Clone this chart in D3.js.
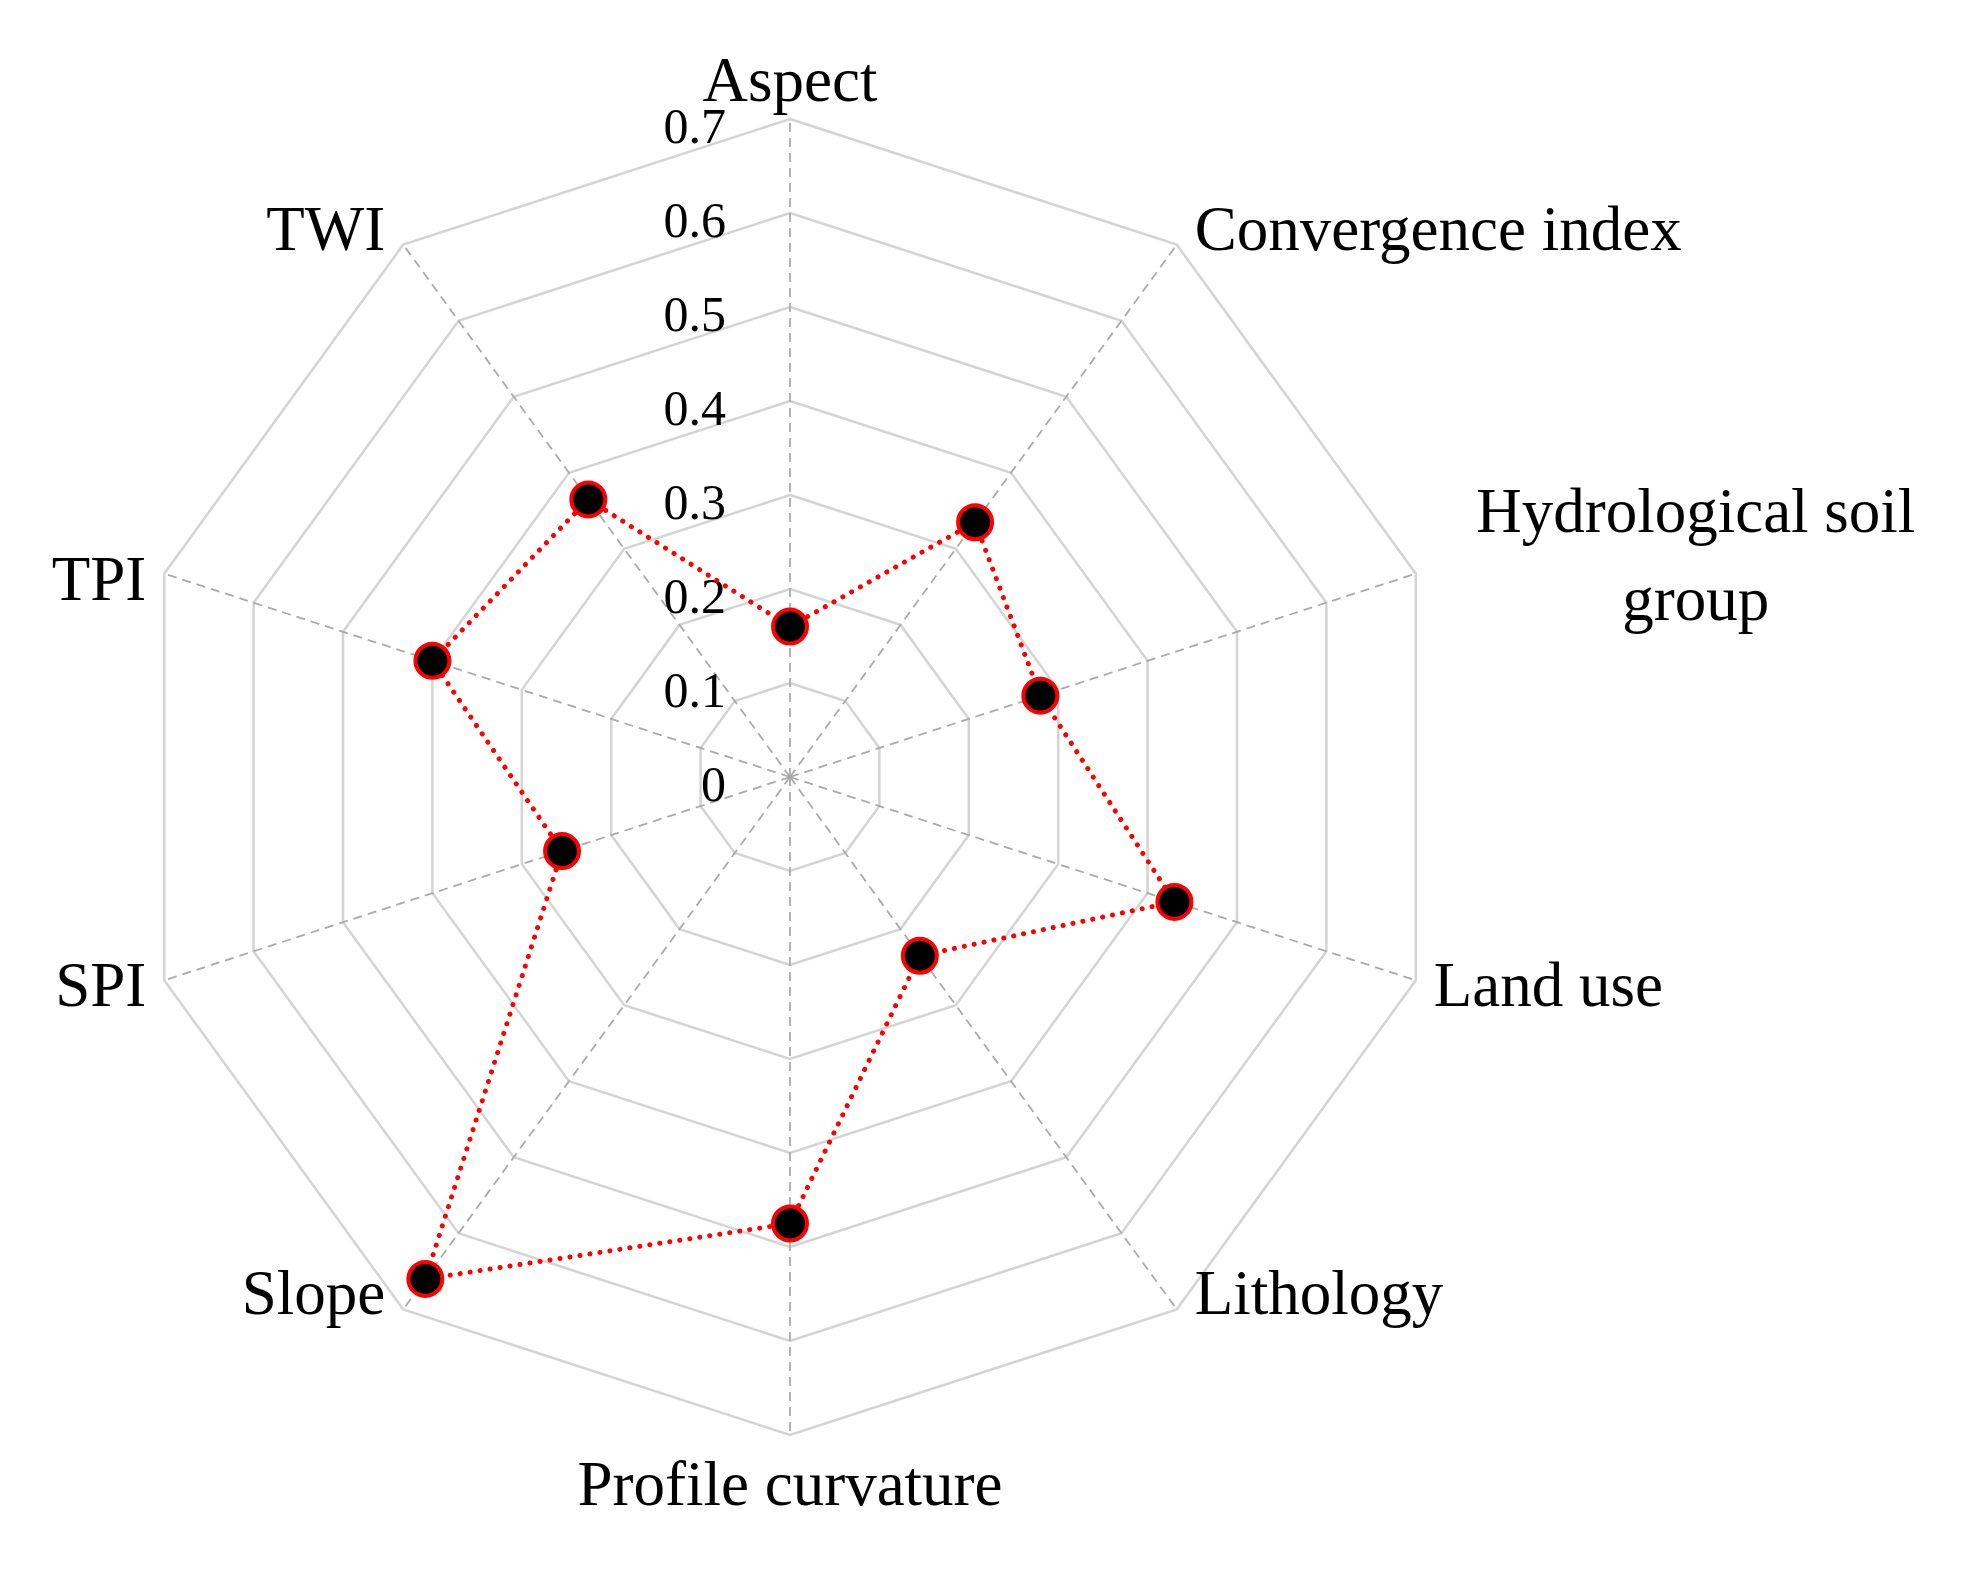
<!DOCTYPE html>
<html lang="en">
<head>
  <meta charset="UTF-8" />
  <title>Radar</title>
  <style>
  body { margin: 0; background: #fff; }
  svg { display: block; }
  text { font-family: "Liberation Serif", "Times New Roman", serif; fill: #000; }
  </style>
  <script src="https://d3js.org/d3.v7.min.js"></script>
</head>
<body>
  <div id="chart"></div>
  <script>
    // Factors in clockwise order from the top
    const factors = ["Aspect", "Convergence index", "Hydrological soil group", "Land use", "Lithology",
      "Profile curvature", "Slope", "SPI", "TPI", "TWI"];
    const values = [0.16, 0.335, 0.28, 0.43, 0.235, 0.475, 0.66, 0.255, 0.40, 0.365];
    const ticks = [0, 0.1, 0.2, 0.3, 0.4, 0.5, 0.6, 0.7];

    const width = 1975, height = 1571;
    const cx = 790, cy = 777, R = 658;

    const svg = d3.select("#chart").append("svg")
      .attr("width", width)
      .attr("height", height);

    const g = svg.append("g").attr("transform", `translate(${cx},${cy})`);

    const r = d3.scaleLinear().domain([0, 0.7]).range([0, R]);
    const angle = d3.scaleLinear().domain([0, factors.length]).range([0, 2 * Math.PI]);
    const pt = (i, v) => [r(v) * Math.sin(angle(i)), -r(v) * Math.cos(angle(i))];

    // Rings
    const line = d3.line();
    g.selectAll(".ring")
      .data(ticks.slice(1))
      .enter().append("path")
      .attr("d", t => line(factors.map((f, i) => pt(i, t))) + "Z")
      .attr("fill", "none")
      .attr("stroke", "#d4d4d4")
      .attr("stroke-width", 2.5);

    // Spokes
    g.selectAll(".spoke")
      .data(factors)
      .enter().append("line")
      .attr("x1", 0).attr("y1", 0)
      .attr("x2", (f, i) => pt(i, 0.7)[0])
      .attr("y2", (f, i) => pt(i, 0.7)[1])
      .attr("stroke", "#aaa")
      .attr("stroke-width", 1.8)
      .attr("stroke-dasharray", "9,6");

    // Tick labels
    g.selectAll(".tick")
      .data(ticks)
      .enter().append("text")
      .attr("x", -64)
      .attr("y", t => -r(t) + 24)
      .attr("text-anchor", "end")
      .attr("font-size", 50)
      .text(t => t === 0 ? "0" : t.toFixed(1));

    // Series line
    g.append("path")
      .attr("d", line(values.map((v, i) => pt(i, v))) + "Z")
      .attr("fill", "none")
      .attr("stroke", "#ff0000")
      .attr("stroke-width", 5)
      .attr("stroke-linecap", "round")
      .attr("stroke-dasharray", "0.1,10");

    // Markers
    g.selectAll(".dot")
      .data(values)
      .enter().append("circle")
      .attr("cx", (v, i) => pt(i, v)[0])
      .attr("cy", (v, i) => pt(i, v)[1])
      .attr("r", 17)
      .attr("fill", "#000")
      .attr("stroke", "#ff0000")
      .attr("stroke-width", 4);

    // Factor labels
    const fs = 63;
    factors.forEach((f, i) => {
      const [x, y] = pt(i, 0.7);
      const a = angle(i);
      const s = Math.sin(a);
      const anchor = Math.abs(s) < 0.01 ? "middle" : (s > 0 ? "start" : "end");
      const lx = x + (anchor === "start" ? 18 : anchor === "end" ? -18 : 0);
      let ly = y + (Math.cos(a) > 0.99 ? -18 : Math.cos(a) < -0.99 ? 70 : 5);
      if (Math.abs(Math.cos(a)) < 0.4 && Math.abs(Math.cos(a)) > 0.05) ly = y + 26;
      if (f === "Hydrological soil group") {
        const t = g.append("text").attr("text-anchor", "middle").attr("font-size", fs);
        t.append("tspan").attr("x", x + 280).attr("y", y - 42).text("Hydrological soil");
        t.append("tspan").attr("x", x + 280).attr("y", y + 46).text("group");
        return;
      }
      g.append("text")
        .attr("x", lx).attr("y", ly)
        .attr("text-anchor", anchor)
        .attr("font-size", fs)
        .text(f);
    });
  </script>
</body>
</html>
